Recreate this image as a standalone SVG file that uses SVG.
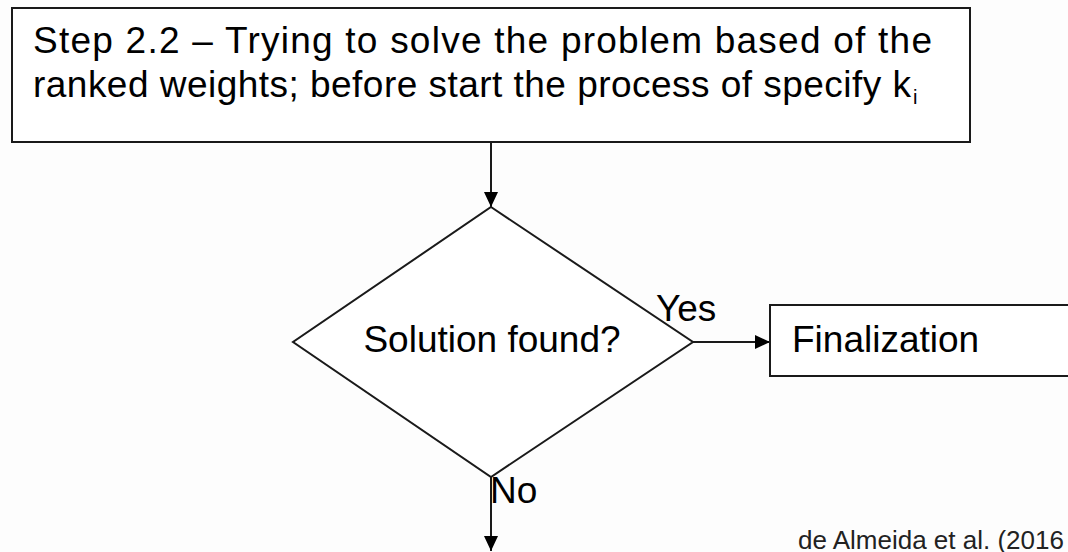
<svg xmlns="http://www.w3.org/2000/svg" width="1068" height="552" viewBox="0 0 1068 552">
<style>
.box{fill:#ffffff;stroke:#1a1a1a;stroke-width:2}
.t{font-family:"Liberation Sans",Arial,sans-serif;font-size:37px;fill:#000}
.conn{stroke:#1a1a1a;stroke-width:2;fill:none;marker-end:url(#ah)}
.cite{font-family:"Liberation Sans",Arial,sans-serif;font-size:26px;fill:#222}
</style>
<defs>
<marker id="ah" markerUnits="userSpaceOnUse" markerWidth="15" markerHeight="14" refX="15" refY="7" orient="auto">
<path d="M0,0 L15,7 L0,14 z" fill="#000"/>
</marker>
</defs>
<rect width="1068" height="552" fill="#fdfdfd"/>
<g id="connectors">
<line class="conn" x1="491" y1="142" x2="491" y2="207"/>
<line class="conn" x1="693" y1="342" x2="770" y2="342"/>
<line class="conn" x1="491" y1="477" x2="491" y2="551"/>
</g>
<g id="step">
<rect class="box" x="12" y="8" width="958" height="134"/>
<text class="t" x="33" y="53" textLength="899" lengthAdjust="spacing">Step 2.2 – Trying to solve the problem based of the</text>
<text class="t" x="33" y="97" textLength="878" lengthAdjust="spacing">ranked weights; before start the process of specify k</text>
<text class="t" x="913" y="104" style="font-size:20px">i</text>
</g>
<g id="decision">
<polygon class="box" points="491,207 693,342 491,477 293,342"/>
<text class="t" x="492" y="352" text-anchor="middle">Solution found?</text>
</g>
<g id="labels">
<text class="t" x="656" y="321">Yes</text>
<text class="t" x="490" y="503">No</text>
</g>
<g id="finalization">
<rect class="box" x="770" y="305" width="320" height="71"/>
<text class="t" x="792" y="352">Finalization</text>
</g>
<g id="citation">
<text class="cite" x="798" y="549">de Almeida et al. (2016</text>
</g>
</svg>
